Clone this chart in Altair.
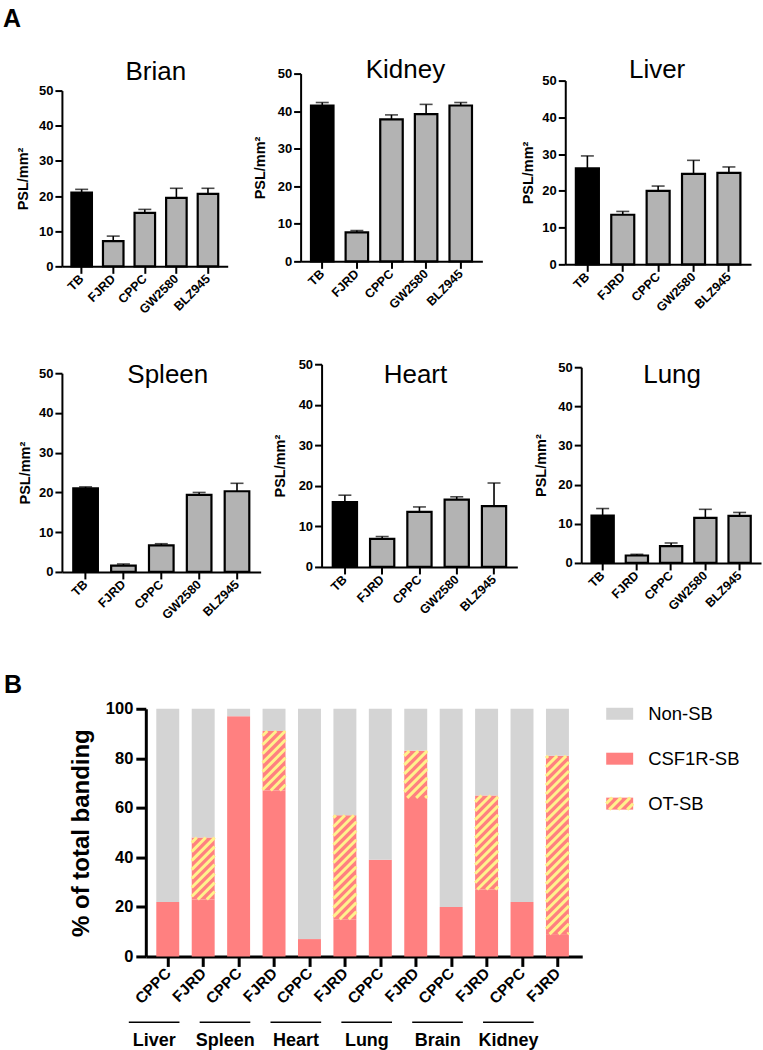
import math
import json
import altair as alt
import pandas as pd

FONT = "Liberation Sans"

# ---------------- Panel A data ----------------
treatments_a = ["TB", "FJRD", "CPPC", "GW2580", "BLZ945"]
brain_mean = [21.0, 7.2, 15.2, 19.5, 20.6]
brain_sem = [0.9, 1.4, 1.0, 2.7, 1.6]
kidney_mean = [41.5, 7.7, 37.8, 39.2, 41.5]
kidney_sem = [0.8, 0.5, 1.2, 2.6, 0.8]
liver_mean = [26.1, 13.5, 20.0, 24.6, 24.9]
liver_sem = [3.4, 0.9, 1.3, 3.7, 1.6]
spleen_mean = [21.0, 1.6, 6.7, 19.4, 20.3]
spleen_sem = [0.4, 0.4, 0.4, 0.6, 2.0]
heart_mean = [16.0, 6.9, 13.6, 16.6, 15.0]
heart_sem = [1.7, 0.6, 1.2, 0.7, 5.7]
lung_mean = [12.1, 1.9, 4.3, 11.5, 12.0]
lung_sem = [1.8, 0.3, 0.8, 2.2, 0.9]
y_ticks_a = [0, 10, 20, 30, 40, 50]

# ---------------- Panel B data ----------------
organs_b = ["Liver", "Spleen", "Heart", "Lung", "Brain", "Kidney"]
treatments_b = ["CPPC", "FJRD"]
csf1r_sb = [22, 23, 97, 67, 7, 15, 39, 64, 20, 27, 22, 9]
ot_sb = [0, 25, 0, 24, 0, 42, 0, 19, 0, 38, 0, 72]
series_b = ["Non-SB", "CSF1R-SB", "OT-SB"]
y_ticks_b = [0, 20, 40, 60, 80, 100]

# ---------------- styles ----------------
TB_COLOR = "#000000"
DRUG_COLOR = "#B3B3B3"
NON_COLOR = "#D4D4D4"
SB_COLOR = "#FF8080"
HATCH_COLOR = "#FFF28C"
HATCH_PERIOD = 9.0
HATCH_WIDTH = 3.0


def hatch_segments(x0, x1, y0, y1, pxx, pxy, period=HATCH_PERIOD):
    """45-degree '/' stripes clipped to a rectangle given in data units."""
    u0, u1 = sorted([x0 * pxx, x1 * pxx])
    v0, v1 = sorted([y0 * pxy, y1 * pxy])
    segs = []
    kmin = math.floor((v0 - u1) / period)
    kmax = math.ceil((v1 - u0) / period)
    for k in range(kmin, kmax + 1):
        c = k * period
        ua = max(u0, v0 - c)
        ub = min(u1, v1 - c)
        if ub - ua > 0.4:
            segs.append({"hx": ua / pxx, "hy": (ua + c) / pxy,
                         "hx2": ub / pxx, "hy2": (ub + c) / pxy})
    return segs


def anchor(px, py):
    """Invisible tiny mark that fixes the layout bounds of a view."""
    return alt.Chart(pd.DataFrame({"a": [0]})).mark_rule(
        color="white", strokeWidth=0.5).encode(
        x=alt.value(px), x2=alt.value(px + 0.5), y=alt.value(py))


def label_text(text, px, py, size, weight="normal", align="center"):
    return alt.Chart(pd.DataFrame({"t": [text]})).mark_text(
        fontSize=size, fontWeight=weight, align=align, baseline="middle",
        color="black", font=FONT).encode(
        text="t:N", x=alt.value(px), y=alt.value(py))


def organ_panel(name, means, sems, w, row_top, row_bottom, plot_top,
                plot_bottom, title_x, title_y, title_pad, anchors):
    H = row_bottom - row_top
    r_bot = plot_bottom - row_top
    r_top = plot_top - row_top
    df = pd.DataFrame({"treatment": treatments_a, "mean": means, "sem": sems})
    base = alt.Chart(df).transform_calculate(upper="datum.mean + datum.sem")
    xs = alt.Scale(domain=treatments_a, paddingInner=0.35, paddingOuter=0.3)
    xax = alt.Axis(title=None, labelAngle=-45, labelAlign="right",
                   labelBaseline="middle", labelFontSize=12.5,
                   labelFontWeight="bold", labelColor="black", labelPadding=3,
                   domainColor="black", domainWidth=2, tickColor="black",
                   tickWidth=2, tickSize=7, offset=plot_bottom - row_bottom)
    ys = alt.Scale(domain=[0, 50], nice=False, range=[r_bot, r_top])
    yax = alt.Axis(values=y_ticks_a, grid=False, title="PSL/mm²",
                   titleFontSize=14.5, titleFontWeight="bold",
                   titleColor="black", titlePadding=title_pad,
                   labelFontSize=13, labelFontWeight="bold",
                   labelColor="black", labelPadding=2, domainColor="black",
                   domainWidth=2, tickColor="black", tickWidth=2, tickSize=7)
    X = alt.X("treatment:N", scale=xs, axis=xax, sort=treatments_a)
    bars = base.mark_bar(stroke="black", strokeWidth=2.2).encode(
        x=X,
        y=alt.Y("mean:Q", scale=ys, axis=yax),
        color=alt.condition(alt.datum.treatment == treatments_a[0],
                            alt.value(TB_COLOR), alt.value(DRUG_COLOR)),
    )
    err = base.mark_rule(color="black", strokeWidth=1.6).encode(
        x=X, y=alt.Y("mean:Q", scale=ys, axis=yax), y2="upper:Q")
    cap = base.mark_tick(color="black", thickness=1.6, size=13).encode(
        x=X, y=alt.Y("upper:Q", scale=ys, axis=yax))
    title = label_text(name, title_x, title_y - row_top, 26)
    extra = [anchor(px, py) for px, py in anchors]
    return alt.layer(*extra, err, cap, bars, title).properties(width=w, height=H)


X0 = 61
R1T, R1B = 72, 265
R2T, R2B = 361, 569
H1 = R1B - R1T
H2 = R2B - R2T
W_BR, W_KI, W_LI = 166, 182, 186
W_SP, W_HE, W_LU = 199, 196, 180
ORG_KI, ORG_LI = 298, 561
ORG_HE, ORG_LU = 319, 577

brian = organ_panel("Brian", brain_mean, brain_sem, W_BR, R1T, R1B, 89, 265,
                    155 - X0, 70, 8.5,
                    [(-X0, 0), (0, -70), (0, H1 + 76), (W_BR + 1, 0)])
brian = alt.layer(brian, label_text("A", 2 - X0, 17.5 - R1T, 25, "bold", "left"))
kidney = organ_panel("Kidney", kidney_mean, kidney_sem, W_KI, R1T, R1B, 72, 260,
                     403 - ORG_KI, 68, 9.5,
                     [(-(ORG_KI - X0 - W_BR - 1), 0), (W_KI + 1, 0)])
liver = organ_panel("Liver", liver_mean, liver_sem, W_LI, R1T, R1B, 79, 263,
                    653 - ORG_LI, 68, 6.5,
                    [(-(ORG_LI - ORG_KI - W_KI - 1), 0), (W_LI + 1, 0)])
spleen = organ_panel("Spleen", spleen_mean, spleen_sem, W_SP, R2T, R2B, 370, 569,
                     167 - X0, 372, 6.5,
                     [(-X0, 0), (0, -20), (0, H2 + 95), (W_SP + 1, 0)])
heart = organ_panel("Heart", heart_mean, heart_sem, W_HE, R2T, R2B, 361, 564,
                    413 - ORG_HE, 372, 10.5,
                    [(-(ORG_HE - X0 - W_SP - 1), 0), (W_HE + 1, 0)])
lung = organ_panel("Lung", lung_mean, lung_sem, W_LU, R2T, R2B, 364, 560,
                   668 - ORG_LU, 372, 9.5,
                   [(-(ORG_LU - ORG_HE - W_HE - 1), 0), (W_LU + 1, 0)])

row1 = alt.hconcat(brian, kidney, liver, spacing=0)
row2 = alt.hconcat(spleen, heart, lung, spacing=0)

# ---------------- Panel B ----------------
B_ORG, B_TOP = 142, 704
WB, HB = 437, 248
XDOM = [-0.62, 11.7]
HW = 0.324
pxx = WB / (XDOM[1] - XDOM[0])
pxy = HB / 100.0

rows = []
hatch_rows = []
for i in range(len(csf1r_sb)):
    c = csf1r_sb[i]
    o = ot_sb[i]
    rows.append({"idx": i, "series": "CSF1R-SB", "lo": 0, "hi": c})
    if o > 0:
        rows.append({"idx": i, "series": "OT-SB", "lo": c, "hi": c + o})
        hatch_rows += hatch_segments(i - HW, i + HW, c, c + o, pxx, pxy)
    rows.append({"idx": i, "series": "Non-SB", "lo": c + o, "hi": 100})
stack_df = pd.DataFrame(rows)
hatch_df = pd.DataFrame(hatch_rows)

xb_scale = alt.Scale(domain=XDOM, nice=False, zero=False)
yb_scale = alt.Scale(domain=[0, 100], nice=False)
label_expr = f"{json.dumps(treatments_b)}[datum.value % 2]"
xb_axis = alt.Axis(values=list(range(len(csf1r_sb))), labelExpr=label_expr,
                   title=None, labelAngle=-45, labelAlign="right",
                   labelBaseline="middle", labelFontSize=15.5,
                   labelFontWeight="bold", labelColor="black", labelPadding=4,
                   labelOverlap=False, domainColor="black", domainWidth=3,
                   tickColor="black", tickWidth=3, tickSize=10, grid=False)
yb_axis = alt.Axis(values=y_ticks_b, title="% of total banding",
                   titleFontSize=24, titleFontWeight="bold", titleColor="black",
                   titlePadding=12, labelFontSize=16.5, labelFontWeight="bold",
                   labelColor="black", labelPadding=3, domainColor="black",
                   domainWidth=3, tickColor="black", tickWidth=3, tickSize=10,
                   grid=False)

series_color = alt.condition(alt.datum.series == series_b[0],
                             alt.value(NON_COLOR), alt.value(SB_COLOR))

stack = alt.Chart(stack_df).transform_calculate(
    x0=f"datum.idx - {HW}", x1=f"datum.idx + {HW}"
).mark_rect().encode(
    x=alt.X("x0:Q", scale=xb_scale, axis=xb_axis),
    x2="x1:Q",
    y=alt.Y("lo:Q", scale=yb_scale, axis=yb_axis),
    y2="hi:Q",
    color=series_color,
)
hatch = alt.Chart(hatch_df).mark_rule(
    color=HATCH_COLOR, strokeWidth=HATCH_WIDTH).encode(
    x=alt.X("hx:Q", scale=xb_scale, axis=xb_axis), x2="hx2:Q",
    y=alt.Y("hy:Q", scale=yb_scale, axis=yb_axis), y2="hy2:Q")

grp_df = pd.DataFrame({"g": list(range(len(organs_b))), "organ": organs_b})
grp_base = alt.Chart(grp_df).transform_calculate(
    xa="2*datum.g - 1.1", xb="2*datum.g + 0.33", xt="2*datum.g - 0.38")
grp_rule = grp_base.mark_rule(color="black", strokeWidth=1.5).encode(
    x=alt.X("xa:Q", scale=xb_scale, axis=xb_axis), x2="xb:Q",
    y=alt.value(1018 - B_TOP))
grp_text = grp_base.mark_text(fontSize=18, fontWeight="bold", color="black",
                              baseline="middle", font=FONT).encode(
    x=alt.X("xt:Q", scale=xb_scale, axis=xb_axis), y=alt.value(1037 - B_TOP),
    text="organ:N")

b_anchors = [anchor(-82, 0), anchor(0, -40), anchor(WB + 1, 0)]
plot_b = alt.layer(*b_anchors, stack, hatch, grp_rule, grp_text).properties(
    width=WB, height=HB)

# legend built from the series list
LW, LH = 155, 135
LROW = 45.0
ldom = [-5 / LROW, -5 / LROW + LH / LROW]
SW, SH = 27, 6 / LROW
leg_df = pd.DataFrame({"series": series_b, "row": list(range(len(series_b)))})
lx = alt.Scale(domain=[0, LW], nice=False, zero=False)
ly = alt.Scale(domain=ldom, nice=False, zero=False, reverse=True)
leg_base = alt.Chart(leg_df).transform_calculate(
    sx0="0", sx1=f"{SW}", ya=f"datum.row - {SH}", yb=f"datum.row + {SH}",
    tx="42")
leg_rect = leg_base.mark_rect().encode(
    x=alt.X("sx0:Q", scale=lx, axis=None), x2="sx1:Q",
    y=alt.Y("ya:Q", scale=ly, axis=None), y2="yb:Q",
    color=series_color)
leg_text = leg_base.mark_text(align="left", baseline="middle", fontSize=18.5,
                              color="black", font=FONT).encode(
    x=alt.X("tx:Q", scale=lx, axis=None),
    y=alt.Y("row:Q", scale=ly, axis=None), text="series:N")
ot_row = series_b.index("OT-SB")
leg_hatch_df = pd.DataFrame(hatch_segments(0, SW, ot_row - SH, ot_row + SH, 1.0, -LROW))
leg_hatch = alt.Chart(leg_hatch_df).mark_rule(
    color=HATCH_COLOR, strokeWidth=HATCH_WIDTH).encode(
    x=alt.X("hx:Q", scale=lx, axis=None), x2="hx2:Q",
    y=alt.Y("hy:Q", scale=ly, axis=None), y2="hy2:Q")
legend = alt.layer(leg_rect, leg_hatch, leg_text).properties(width=LW, height=LH)

spacer = alt.layer(anchor(-X0, 0), anchor(0, 0),
                   label_text("B", 3 - X0, 680 - B_TOP, 25, "bold", "left")
                   ).properties(width=1, height=1)

row3 = alt.hconcat(spacer, alt.hconcat(plot_b, legend, spacing=603 - B_ORG - WB - 4),
                   spacing=0)

chart = alt.vconcat(row1, row2, row3, spacing=0).properties(
    padding={"left": 0, "top": 2, "right": 0, "bottom": 0}
).configure(font=FONT).configure_view(strokeWidth=0).configure_axis(
    labelFont=FONT, titleFont=FONT)

chart.save("out.html", embed_options={"renderer": "svg", "actions": False})
